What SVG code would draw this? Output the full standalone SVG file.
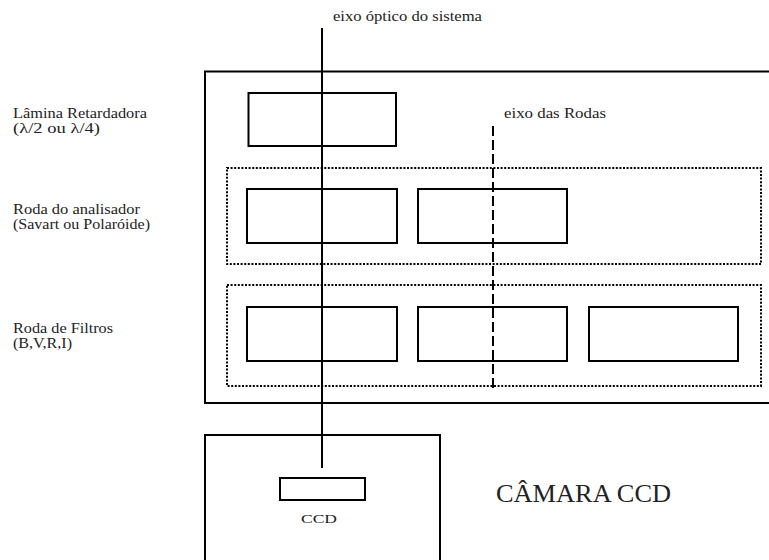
<svg xmlns="http://www.w3.org/2000/svg" width="769" height="560" viewBox="0 0 769 560" font-family="'Liberation Serif', 'DejaVu Serif', serif">
<style>
.box{fill:none;stroke:#000;stroke-width:2}
.dot{fill:none;stroke:#000;stroke-width:2;stroke-dasharray:2 1.6}
.dash{fill:none;stroke:#000;stroke-width:2;stroke-dasharray:10 4}
.ax{fill:none;stroke:#000;stroke-width:2}
.t{font-family:'Liberation Serif','DejaVu Serif',serif;fill:#222;font-size:14px}
.s{font-family:'Liberation Serif','DejaVu Serif',serif;fill:#222;font-size:13px}
.big{font-family:'Liberation Serif','DejaVu Serif',serif;fill:#222;font-size:26px}
</style>
<rect width="769" height="560" fill="#fff"/>
<g id="sistema">
<rect class="box" x="205" y="71.5" width="580" height="331.5"/>
</g>
<g id="lamina">
<rect class="box" x="248.5" y="93" width="147.5" height="53"/>
<text class="t" x="13" y="118" textLength="134" lengthAdjust="spacingAndGlyphs">Lâmina Retardadora</text>
<text class="t" x="13" y="133" textLength="87" lengthAdjust="spacingAndGlyphs">(λ/2 ou λ/4)</text>
</g>
<g id="roda-analisador">
<rect class="dot" x="227" y="168" width="534" height="96"/>
<rect class="box" x="247" y="189" width="150" height="54"/>
<rect class="box" x="418" y="189" width="149" height="54"/>
<text class="t" x="13" y="214" textLength="127" lengthAdjust="spacingAndGlyphs">Roda do analisador</text>
<text class="t" x="13" y="229" textLength="137" lengthAdjust="spacingAndGlyphs">(Savart ou Polaróide)</text>
</g>
<g id="roda-filtros">
<rect class="dot" x="227" y="285" width="534" height="101"/>
<rect class="box" x="247" y="307" width="150" height="54"/>
<rect class="box" x="418" y="307" width="149" height="54"/>
<rect class="box" x="589" y="307" width="149" height="54"/>
<text class="t" x="13" y="333" textLength="100" lengthAdjust="spacingAndGlyphs">Roda de Filtros</text>
<text class="t" x="13" y="348" textLength="59" lengthAdjust="spacingAndGlyphs">(B,V,R,I)</text>
</g>
<g id="camara">
<rect class="box" x="205" y="435" width="235" height="140"/>
<rect class="box" x="280" y="478" width="85" height="22"/>
<text class="s" x="301" y="523" textLength="36" lengthAdjust="spacingAndGlyphs">CCD</text>
<text class="big" x="496" y="502" textLength="175" lengthAdjust="spacingAndGlyphs">CÂMARA CCD</text>
</g>
<g id="eixos">
<line class="ax" x1="322" y1="28" x2="322" y2="468"/>
<text class="t" x="333" y="21" textLength="149" lengthAdjust="spacingAndGlyphs">eixo óptico do sistema</text>
<line class="dash" x1="493" y1="126" x2="493" y2="388"/>
<text class="t" x="504" y="118" textLength="102" lengthAdjust="spacingAndGlyphs">eixo das Rodas</text>
</g>
</svg>
